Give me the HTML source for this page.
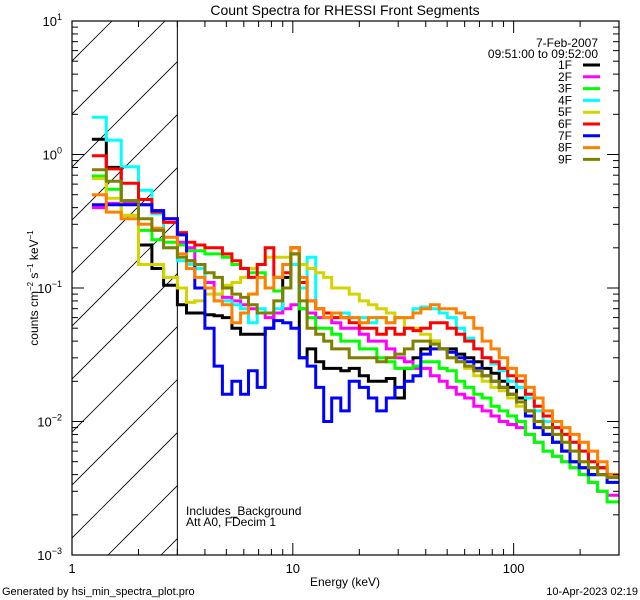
<!DOCTYPE html>
<html><head><meta charset="utf-8"><style>
body{margin:0;background:#fff;}
svg{display:block;font-family:"Liberation Sans",sans-serif;}
</style></head><body>
<svg id="chart" width="640" height="600" viewBox="0 0 640 600">
<defs><clipPath id="pc"><rect x="72" y="21" width="547" height="534"/></clipPath></defs>
<rect width="640" height="600" fill="#fff"/>
<text x="345" y="15" font-size="14" text-anchor="middle">Count Spectra for RHESSI Front Segments</text>
<g id="hatch" clip-path="url(#pc)"></g>
<g id="series" clip-path="url(#pc)"></g>
<g id="axes"></g>
<text x="186" y="515" font-size="12">Includes_Background</text>
<text x="186" y="526" font-size="12">Att A0, FDecim 1</text>
<text x="345" y="586" font-size="12" text-anchor="middle">Energy (keV)</text>
<text transform="translate(38,288) rotate(-90)" font-size="12" text-anchor="middle">counts cm<tspan font-size="8" dy="-5">−2</tspan><tspan dy="5"> s</tspan><tspan font-size="8" dy="-5">−1</tspan><tspan dy="5"> keV</tspan><tspan font-size="8" dy="-5">−1</tspan></text>
<text x="2" y="595" font-size="11">Generated by hsi_min_spectra_plot.pro</text>
<text x="638" y="595" font-size="11" text-anchor="end">10-Apr-2023 02:19</text>
<text x="598" y="47" font-size="12" text-anchor="end">7-Feb-2007</text>
<text x="598" y="58" font-size="12" text-anchor="end">09:51:00 to 09:52:00</text>
<g id="legend"></g>
</svg>
<script>
const edges=[1.23,1.43,1.67,2.0,2.3,2.6,3.0,3.3,3.6,4.0,4.4,4.8,5.3,5.8,6.3,6.9,7.5,8.2,9.0,9.8,10.7,11.6,12.7,13.8,15,16.5,18,20,22,24,26.5,29,32,35,38,42,46,50,55,60,66,72,79,86,94,103,113,124,136,150,165,180,198,218,240,265,300];
const names=["1F","2F","3F","4F","5F","6F","7F","8F","9F"];
const colors=["#000000","#ff00ff","#00ff00","#00ffff","#d4d400","#ff0000","#0000ff","#ff8000","#808000"];
const s1F=[1.3,0.8,0.45,0.21,0.14,0.105,0.075,0.065,0.065,0.063,0.062,0.06,0.05,0.045,0.045,0.045,0.05,0.065,0.12,0.18,0.03,0.035,0.028,0.025,0.025,0.024,0.025,0.022,0.02,0.02,0.021,0.015,0.025,0.03,0.035,0.04,0.035,0.035,0.032,0.03,0.028,0.025,0.023,0.02,0.018,0.015,0.012,0.01,0.008,0.007,0.006,0.005,0.0045,0.004,0.0045,0.004];
const s2F=[0.4,0.43,0.43,0.42,0.38,0.33,0.22,0.2,0.15,0.11,0.09,0.085,0.08,0.075,0.07,0.065,0.06,0.065,0.07,0.075,0.07,0.065,0.06,0.06,0.055,0.05,0.05,0.045,0.04,0.04,0.035,0.03,0.028,0.025,0.025,0.022,0.02,0.018,0.016,0.015,0.013,0.012,0.011,0.01,0.0095,0.009,0.008,0.007,0.006,0.0055,0.005,0.0045,0.004,0.0035,0.003,0.0028];
const s3F=[0.69,0.55,0.35,0.27,0.23,0.22,0.21,0.19,0.19,0.18,0.18,0.17,0.15,0.14,0.13,0.13,0.1,0.095,0.1,0.2,0.07,0.06,0.05,0.05,0.045,0.04,0.04,0.035,0.035,0.03,0.028,0.025,0.025,0.026,0.028,0.028,0.025,0.024,0.02,0.018,0.016,0.015,0.013,0.012,0.011,0.01,0.008,0.007,0.006,0.0055,0.005,0.0045,0.004,0.0035,0.003,0.0025];
const s4F=[1.9,1.28,0.81,0.54,0.36,0.2,0.16,0.15,0.14,0.1,0.08,0.08,0.075,0.07,0.055,0.07,0.065,0.07,0.1,0.15,0.1,0.17,0.07,0.065,0.06,0.065,0.06,0.06,0.055,0.06,0.055,0.06,0.06,0.07,0.072,0.07,0.065,0.06,0.05,0.042,0.035,0.03,0.027,0.024,0.02,0.018,0.015,0.012,0.01,0.009,0.008,0.007,0.006,0.005,0.004,0.0035];
const s5F=[0.66,0.47,0.35,0.15,0.15,0.12,0.1,0.078,0.08,0.09,0.09,0.105,0.11,0.12,0.14,0.15,0.17,0.17,0.17,0.2,0.15,0.14,0.13,0.12,0.1,0.1,0.09,0.08,0.075,0.07,0.065,0.06,0.05,0.05,0.045,0.04,0.035,0.03,0.028,0.025,0.022,0.02,0.018,0.017,0.015,0.013,0.011,0.01,0.009,0.008,0.007,0.006,0.005,0.0045,0.004,0.0035];
const s6F=[0.98,0.78,0.61,0.46,0.37,0.31,0.26,0.22,0.21,0.2,0.2,0.18,0.16,0.14,0.12,0.15,0.2,0.12,0.13,0.2,0.11,0.08,0.07,0.065,0.06,0.06,0.055,0.05,0.05,0.045,0.05,0.045,0.05,0.048,0.05,0.055,0.055,0.05,0.045,0.04,0.035,0.03,0.028,0.025,0.022,0.02,0.016,0.013,0.011,0.009,0.008,0.007,0.006,0.005,0.0045,0.004];
const s7F=[0.42,0.42,0.42,0.42,0.38,0.33,0.25,0.16,0.1,0.05,0.026,0.016,0.02,0.016,0.024,0.018,0.05,0.057,0.055,0.05,0.03,0.026,0.018,0.01,0.015,0.012,0.02,0.018,0.015,0.012,0.015,0.018,0.02,0.022,0.032,0.035,0.035,0.033,0.03,0.028,0.025,0.022,0.02,0.018,0.016,0.014,0.011,0.009,0.008,0.007,0.006,0.005,0.0045,0.004,0.004,0.0035];
const s8F=[0.5,0.37,0.33,0.3,0.28,0.24,0.18,0.14,0.12,0.1,0.08,0.075,0.055,0.065,0.09,0.12,0.1,0.12,0.15,0.2,0.12,0.08,0.07,0.06,0.065,0.06,0.06,0.055,0.06,0.06,0.055,0.06,0.06,0.065,0.07,0.075,0.07,0.07,0.065,0.06,0.05,0.04,0.035,0.03,0.025,0.022,0.018,0.015,0.012,0.01,0.009,0.008,0.007,0.006,0.005,0.004];
const s9F=[0.77,0.63,0.45,0.33,0.27,0.2,0.17,0.16,0.15,0.13,0.12,0.1,0.09,0.085,0.075,0.065,0.065,0.08,0.1,0.18,0.08,0.05,0.045,0.04,0.035,0.035,0.03,0.03,0.03,0.028,0.03,0.032,0.035,0.04,0.04,0.038,0.035,0.03,0.028,0.026,0.024,0.022,0.02,0.018,0.016,0.014,0.012,0.01,0.009,0.008,0.007,0.006,0.005,0.0045,0.004,0.0038];
const seriesData=[s1F,s2F,s3F,s4F,s5F,s6F,s7F,s8F,s9F];
const xTickLabels=["1","10","100"];
const yTickExps=[-3,-2,-1,0,1];

const L=72,R=619,T=21,B=555,XMIN=1,XMAX=300,YMIN=-3,YMAX=1;
const xs=e=>L+(Math.log10(e)-Math.log10(XMIN))/(Math.log10(XMAX)-Math.log10(XMIN))*(R-L);
const ys=v=>B-(Math.log10(v)-YMIN)/(YMAX-YMIN)*(B-T);
const NS="http://www.w3.org/2000/svg";
function mk(tag,attrs,parent){const el=document.createElementNS(NS,tag);for(const k in attrs)el.setAttribute(k,attrs[k]);parent.appendChild(el);return el;}

// hatch
const hg=document.getElementById('hatch');
const x3=xs(3);
mk('line',{x1:x3,y1:T,x2:x3,y2:B,stroke:'#000','stroke-width':1},hg);
for(let c=-600;c<200;c+=53){
  const ln=mk('line',{x1:L+c,y1:B,x2:L+c+600,y2:B-600,stroke:'#000','stroke-width':0.8},hg);
  ln.setAttribute('clip-path','url(#hc)');
}
const defs=document.querySelector('defs');
const cp=mk('clipPath',{id:'hc'},defs);mk('rect',{x:L,y:T,width:x3-L,height:B-T},cp);

// series
const sg=document.getElementById('series');
seriesData.forEach((d,i)=>{
  let p='';
  d.forEach((v,j)=>{const xa=xs(edges[j]),xb=xs(edges[j+1]),y=ys(v);p+=(j===0?'M':'L')+xa.toFixed(1)+','+y.toFixed(1)+'L'+xb.toFixed(1)+','+y.toFixed(1);});
  const el=mk('path',{d:p,fill:'none',stroke:colors[i],'stroke-width':3,'stroke-linejoin':'miter'},sg);
  
  
});

// axes
const ag=document.getElementById('axes');
mk('rect',{x:L,y:T,width:R-L,height:B-T,fill:'none',stroke:'#000','stroke-width':1.2},ag);
for(let dec=0;dec<3;dec++){for(let m=1;m<10;m++){const e=Math.pow(10,dec)*m;if(e>XMAX)break;const x=xs(e);const len=m===1?12:6;
  mk('line',{x1:x,y1:B,x2:x,y2:B-len,stroke:'#000'},ag);mk('line',{x1:x,y1:T,x2:x,y2:T+len,stroke:'#000'},ag);}}
xTickLabels.forEach(t=>{const el=mk('text',{x:xs(+t),y:B+18,'font-size':13,'text-anchor':'middle'},ag);el.textContent=t;
  
  });
for(let ex=YMIN;ex<YMAX;ex++){for(let m=1;m<10;m++){const y=ys(Math.pow(10,ex)*m);const len=m===1?12:6;
  mk('line',{x1:L,y1:y,x2:L+len,y2:y,stroke:'#000'},ag);mk('line',{x1:R,y1:y,x2:R-len,y2:y,stroke:'#000'},ag);}}
mk('line',{x1:L,y1:T,x2:L+12,y2:T,stroke:'#000'},ag);
yTickExps.forEach(ex=>{const y=ys(Math.pow(10,ex));const el=mk('text',{x:L-10,y:y+5,'font-size':13,'text-anchor':'end'},ag);
  el.innerHTML='10<tspan font-size="9" dy="-6">'+(ex<0?'−'+(-ex):ex)+'</tspan>';
  
  });

// legend
const lg=document.getElementById('legend');
names.forEach((n,i)=>{const y=65+i*11.8;
  const t=mk('text',{x:572,y:y+4,'font-size':12,'text-anchor':'end'},lg);t.textContent=n;
  
  
  const l=mk('line',{x1:583,y1:y,x2:600,y2:y,stroke:colors[i],'stroke-width':3},lg);
  
  });
</script>
</body></html>
